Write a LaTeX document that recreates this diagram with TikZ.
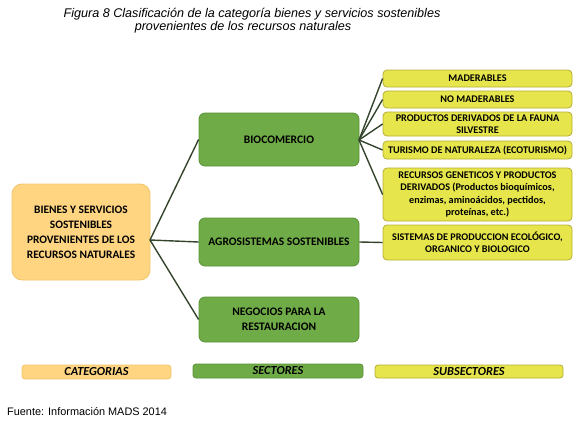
\documentclass[tikz,border=0pt]{standalone}
\usepackage{fontspec}
\setmainfont{Carlito}
\newfontfamily\arialfont{Liberation Sans}
\definecolor{orfill}{HTML}{FFD582}
\definecolor{ordraw}{HTML}{F2C56A}
\definecolor{grfill}{HTML}{6FAC47}
\definecolor{grdraw}{HTML}{5A9238}
\definecolor{yefill}{HTML}{E6E64C}
\definecolor{yedraw}{HTML}{B5AE32}
\definecolor{lnk}{HTML}{34452C}
\begin{document}
\begin{tikzpicture}[x=1pt,y=-1pt,
  catbox/.style={draw=ordraw,fill=orfill,line width=0.8pt,rounded corners=10pt,
    minimum width=138pt,minimum height=96pt,align=center,inner sep=0pt,
    font=\bfseries\fontsize{11.4}{15}\selectfont},
  secbox/.style={draw=grdraw,fill=grfill,line width=0.8pt,rounded corners=6pt,
    minimum width=160pt,align=center,inner sep=0pt,
    font=\bfseries\fontsize{11.5}{15}\selectfont},
  subbox/.style={draw=yedraw,fill=yefill,line width=0.8pt,rounded corners=4pt,
    minimum width=189pt,align=center,inner sep=0pt,
    font=\bfseries\fontsize{10.2}{12.3}\selectfont},
  legbox/.style={line width=0.8pt,rounded corners=3pt,inner sep=0pt,
    font=\bfseries\itshape\fontsize{12.3}{12}\selectfont},
  titletext/.style={font=\arialfont\itshape\fontsize{12.6}{13.5}\selectfont,inner sep=0pt},
  link/.style={draw=lnk,line width=1.4pt}]
\useasboundingbox (0,0) rectangle (582,439);
% title
\node[titletext] (title1) at (252,14) {Figura 8 Clasificación de la categoría bienes y servicios sostenibles};
\node[titletext] (title2) at (243,27.5) {provenientes de los recursos naturales};
% category
\node[catbox] (cat) at (81,232) {BIENES Y SERVICIOS\\SOSTENIBLES\\PROVENIENTES DE LOS\\RECURSOS NATURALES};
% sectors
\node[secbox,minimum height=53pt] (bio) at (279,139.5) {BIOCOMERCIO};
\node[secbox,minimum height=48pt] (agro) at (279,242) {AGROSISTEMAS SOSTENIBLES};
\node[secbox,minimum height=45pt] (neg) at (279,319.5) {NEGOCIOS PARA LA\\RESTAURACION};
% subsectors
\node[subbox,minimum height=17pt] (mad) at (477.5,78.5) {MADERABLES};
\node[subbox,minimum height=17pt] (nomad) at (477.5,99.5) {NO MADERABLES};
\node[subbox,minimum height=24pt] (fau) at (477.5,124) {PRODUCTOS DERIVADOS DE LA FAUNA\\SILVESTRE};
\node[subbox,minimum height=18pt] (tur) at (477.5,150) {TURISMO DE NATURALEZA (ECOTURISMO)};
\node[subbox,minimum height=53pt] (rec) at (477.5,194.5) {RECURSOS GENETICOS Y PRODUCTOS\\DERIVADOS (Productos bioquímicos,\\enzimas, aminoácidos, pectidos,\\proteínas, etc.)};
\node[subbox,minimum height=35pt] (sis) at (477.5,242.5) {SISTEMAS DE PRODUCCION ECOLÓGICO,\\ORGANICO Y BIOLOGICO};
% connectors
\coordinate (cj) at (150,240);
\coordinate (bj) at (359,140);
\draw[link] (cj) -- (bio.west);
\draw[link] (cj) -- (agro.west);
\draw[link] (cj) -- (neg.west);
\draw[link] (bj) -- (mad.west);
\draw[link] (bj) -- (nomad.west);
\draw[link] (bj) -- (fau.west);
\draw[link] (bj) -- (tur.west);
\draw[link] (bj) -- (rec.west);
\draw[link] (agro.east) -- (sis.west);
% legend
\node[legbox,draw=ordraw,fill=orfill,minimum width=149pt,minimum height=14pt] (lcat) at (96.5,372) {CATEGORIAS};
\node[legbox,draw=grdraw,fill=grfill,minimum width=170pt,minimum height=14pt] (lsec) at (278,371) {SECTORES};
\node[legbox,draw=yedraw,fill=yefill,minimum width=188pt,minimum height=13pt] (lsub) at (469,371.5) {SUBSECTORES};
% source
\node[font=\arialfont\fontsize{10.9}{12}\selectfont,anchor=west,inner sep=0pt] (src) at (7,412) {Fuente: Información MADS 2014};
\end{tikzpicture}
\end{document}
